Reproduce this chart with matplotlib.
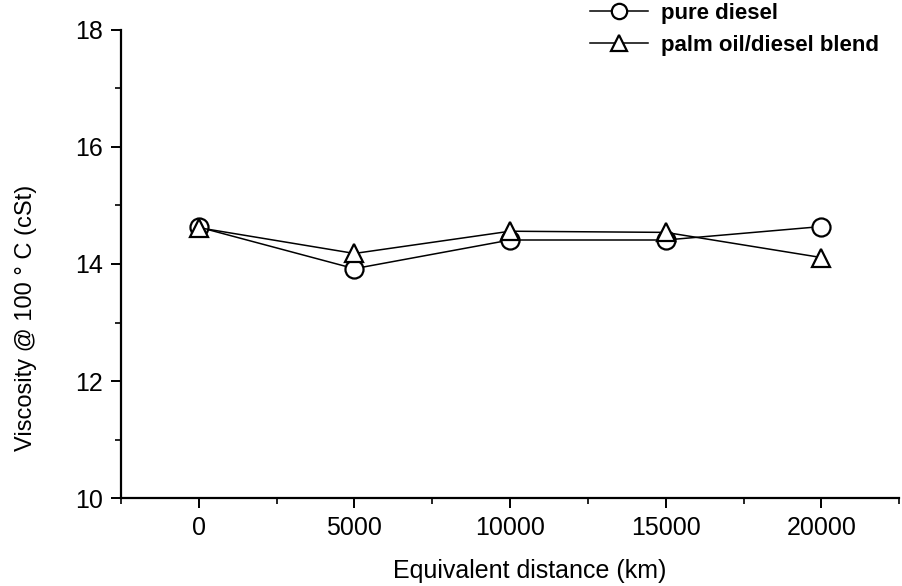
import matplotlib
matplotlib.use("Agg")
import matplotlib.pyplot as plt
from matplotlib.ticker import MultipleLocator

plt.rcParams['font.family'] = ['Liberation Sans', 'DejaVu Sans']

# data
distance_km = [0, 5000, 10000, 15000, 20000]
pure_diesel = [14.63, 13.92, 14.41, 14.41, 14.64]
palm_blend = [14.62, 14.18, 14.56, 14.54, 14.11]

fig = plt.figure(figsize=(9.02, 5.86), dpi=100)
ax = fig.add_axes([0.134, 0.150, 0.863, 0.799])

line_kw = dict(color="black", lw=1.1, markersize=13, markeredgewidth=1.6,
               markerfacecolor="white", markeredgecolor="black")
ax.plot(distance_km, pure_diesel, marker="o", label="pure diesel", **line_kw)
ax.plot(distance_km, palm_blend, marker="^", label="palm oil/diesel blend", **line_kw)

ax.set_xlim(-2500, 22500)
ax.set_ylim(10, 18)
ax.xaxis.set_major_locator(MultipleLocator(5000))
ax.xaxis.set_minor_locator(MultipleLocator(2500))
ax.yaxis.set_major_locator(MultipleLocator(2))
ax.yaxis.set_minor_locator(MultipleLocator(1))

for side in ["top", "right"]:
    ax.spines[side].set_visible(False)
for side in ["left", "bottom"]:
    ax.spines[side].set_linewidth(1.6)

ax.tick_params(which="major", direction="out", length=7, width=1.4, labelsize=18, pad=6)
ax.tick_params(which="minor", direction="out", length=4, width=1.2)

ax.set_xlabel("Equivalent distance (km)", fontsize=18)
ax.set_ylabel("Viscosity @ 100 ° C (cSt)", fontsize=17)
ax.xaxis.set_label_coords(0.525, -0.13)
ax.yaxis.set_label_coords(-0.108, 0.385)

leg = ax.legend(loc="upper right", bbox_to_anchor=(1.0, 1.1), frameon=False,
                fontsize=16, handlelength=2.6, handletextpad=0.6, labelspacing=0.5,
                markerscale=0.85)
for t in leg.get_texts():
    t.set_fontweight("bold")

fig.savefig("out.png", dpi=100)
